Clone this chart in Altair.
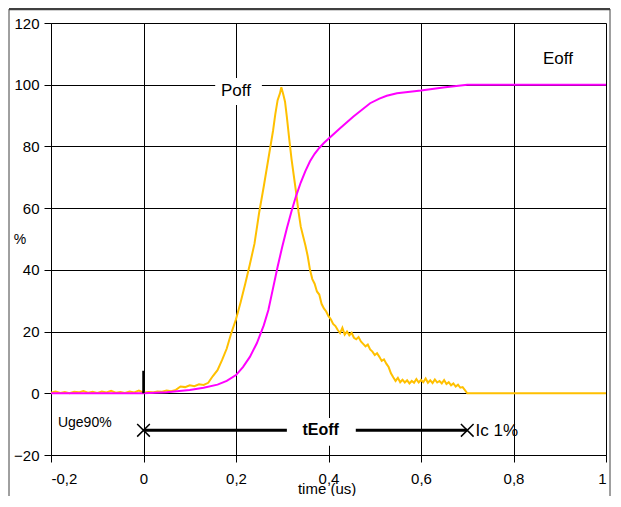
import altair as alt
import pandas as pd

# ---- data ----
poff_t = [-0.2, -0.19, -0.18, -0.17, -0.16, -0.15, -0.14, -0.13, -0.12, -0.11, -0.10,
          -0.09, -0.08, -0.07, -0.06, -0.05, -0.04, -0.03, -0.02, -0.01, 0.0,
          0.01, 0.02, 0.03, 0.04, 0.05, 0.06, 0.07, 0.08, 0.09, 0.10, 0.11, 0.12, 0.13, 0.14,
          0.15, 0.16, 0.17, 0.18, 0.19, 0.20, 0.21, 0.22, 0.23, 0.24, 0.25, 0.26, 0.27, 0.28,
          0.285, 0.29, 0.295, 0.298, 0.302, 0.306, 0.31, 0.315, 0.32, 0.325, 0.33, 0.335,
          0.34, 0.345, 0.35, 0.355, 0.36, 0.365, 0.37, 0.375, 0.38, 0.385, 0.39, 0.395,
          0.40, 0.405, 0.41, 0.415, 0.42, 0.425, 0.43, 0.435, 0.44, 0.445, 0.45, 0.455,
          0.46, 0.465, 0.47, 0.475, 0.48, 0.485, 0.49, 0.495, 0.50, 0.505, 0.51, 0.515,
          0.52, 0.525, 0.53, 0.535, 0.54, 0.545, 0.55, 0.555, 0.56, 0.565, 0.57, 0.575,
          0.58, 0.585, 0.59, 0.595, 0.60, 0.605, 0.61, 0.615, 0.62, 0.625, 0.63, 0.635,
          0.64, 0.645, 0.65, 0.655, 0.66, 0.665, 0.67, 0.675, 0.68, 0.685, 0.69, 0.695,
          0.70, 1.0]
poff_v = [0.2, 0.6, 0.1, 0.4, 0.0, 0.5, 0.3, 0.7, 0.2, 0.5, 0.1,
          0.6, 0.3, 0.8, 0.2, 0.4, 0.1, 0.6, 0.3, 0.9, 0.2,
          0.4, 0.3, 0.6, 0.5, 0.9, 0.7, 1.1, 2.2, 2.0, 2.6, 2.3, 2.9, 2.7, 3.4,
          5.6, 7.5, 10.8, 14.5, 19.6, 24.0, 29.5, 35.5, 41.8, 48.5, 58.5, 67.0, 76.0, 85.0,
          90.5, 95.0, 97.2, 99.2, 97.0, 94.5, 89.5, 82.5, 76.0, 70.5, 65.0, 59.0,
          54.0, 51.0, 48.0, 44.5, 40.0, 37.0, 35.5, 33.0, 32.0, 29.0, 27.5, 26.5,
          25.0, 24.0, 22.5, 21.8, 20.5, 19.5, 21.2, 19.0, 20.0, 18.8, 19.6, 18.0,
          17.5, 18.2, 16.8, 16.0, 15.2, 15.8, 14.2, 13.5, 12.4, 13.0, 11.8, 10.5,
          11.0, 9.6, 8.5, 6.5, 5.2, 4.0, 5.0, 3.6, 4.4, 3.5, 4.2, 3.2,
          4.0, 3.4, 4.6, 3.5, 4.3, 3.6, 4.8, 3.4, 4.2, 3.3, 4.5, 3.5,
          4.0, 3.2, 4.3, 3.0, 3.6, 2.6, 3.2, 2.2, 2.8, 1.8, 2.0, 1.0,
          0.0, 0.0]

eoff_t = [-0.2, 0.0, 0.05, 0.10, 0.13, 0.16, 0.18, 0.20, 0.215, 0.23, 0.245, 0.26, 0.27,
          0.28, 0.29, 0.30, 0.31, 0.32, 0.33, 0.34, 0.35, 0.36, 0.37, 0.38, 0.39, 0.40,
          0.425, 0.454, 0.49, 0.51, 0.526, 0.548, 0.60, 0.648, 0.70, 1.0]
eoff_v = [0.0, 0.0, 0.3, 1.1, 1.8, 2.8, 4.0, 5.9, 8.5, 11.8, 16.2, 22.0, 27.0,
          34.0, 41.0, 47.5, 53.5, 59.0, 64.0, 68.3, 72.0, 75.2, 77.6, 79.5, 81.1, 82.5,
          85.9, 89.7, 94.0, 95.5, 96.4, 97.2, 98.1, 99.1, 100.0, 100.0]

x_ticks = [-0.2, 0.0, 0.2, 0.4, 0.6, 0.8, 1.0]
y_ticks = [-20, 0, 20, 40, 60, 80, 100, 120]

# annotations
big_text = ["Poff", "Eoff"]
big_t = [0.2, 0.896]
big_v = [98.0, 108.4]

small_text = ["Uge90%", "%"]
small_t = [-0.127, -0.267]
small_v = [-9.6, 49.7]

arrow_t = [0.0, 0.7]
arrow_v = [-12.0, -12.0]

box_t = [0.155, 0.31]
box_t2 = [0.256, 0.459]
box_v = [93.4, -8.0]
box_v2 = [102.2, -17.0]

W, H = 555, 432
FONT = "Liberation Sans"

poff = pd.DataFrame({"t": poff_t, "v": poff_v})
eoff = pd.DataFrame({"t": eoff_t, "v": eoff_v})
big = pd.DataFrame({"t": big_t, "v": big_v, "text": big_text})
small = pd.DataFrame({"t": small_t, "v": small_v, "text": small_text})
arrow = pd.DataFrame({"t": arrow_t, "v": arrow_v})
boxes = pd.DataFrame({"t": box_t, "t2": box_t2, "v": box_v, "v2": box_v2})

xscale = alt.Scale(domain=[-0.2, 1.0], nice=False, zero=False)
yscale = alt.Scale(domain=[-20, 120], nice=False, zero=False)

xlab = ("datum.value < 0 ? '-' + replace(format(-datum.value, '.1~f'), '.', ',') : "
        "replace(format(datum.value, '.1~f'), '.', ',')")

xaxis = alt.Axis(values=x_ticks, labelExpr=xlab, title=None, grid=True,
                 gridColor="black", gridOpacity=1, gridWidth=1,
                 tickColor="black", tickSize=7, domainColor="black",
                 labelFont=FONT, labelFontSize=15, labelColor="black", labelPadding=9)
yaxis = alt.Axis(values=y_ticks, title=None, grid=True,
                 gridColor="black", gridOpacity=1, gridWidth=1,
                 tickColor="black", tickSize=7, domainColor="black",
                 labelFont=FONT, labelFontSize=15, labelColor="black", labelPadding=5)

X = alt.X("t:Q", scale=xscale)
Y = alt.Y("v:Q", scale=yscale)

base_poff = alt.Chart(poff).mark_line(color="#FFC000", strokeWidth=2).encode(
    x=alt.X("t:Q", scale=xscale, axis=xaxis),
    y=alt.Y("v:Q", scale=yscale, axis=yaxis),
)

eoff_line = alt.Chart(eoff).mark_line(color="#FF00FF", strokeWidth=2).encode(x=X, y=Y)

arrow_line = alt.Chart(arrow).mark_line(color="black", strokeWidth=3).encode(x=X, y=Y)
arrow_ends = alt.Chart(arrow).mark_point(
    shape="M-1,-1L1,1M-1,1L1,-1", filled=False, color="black", strokeWidth=1.5,
    size=160, opacity=1
).encode(x=X, y=Y)

white_boxes = alt.Chart(boxes).mark_rect(color="white").encode(
    x=X, x2="t2:Q", y=Y, y2="v2:Q",
)

marker = alt.Chart(pd.DataFrame({"t": [0.0], "v": [0.0], "v2": [7.3]})).mark_rule(
    color="black", strokeWidth=2.5
).encode(x=X, y=Y, y2="v2:Q")

big_labels = alt.Chart(big).mark_text(font=FONT, fontSize=17, color="black",
                                      align="center", baseline="middle").encode(
    x=X, y=Y, text="text:N")

small_labels = alt.Chart(small).mark_text(font=FONT, fontSize=14, color="black",
                                          align="center", baseline="middle").encode(
    x=X, y=Y, text="text:N")

ic = alt.Chart(pd.DataFrame({"t": [0.718], "v": [-12.1], "text": ["Ic 1%"]})).mark_text(
    font=FONT, fontSize=17, color="black", align="left", baseline="middle"
).encode(x=X, y=Y, text="text:N")

teoff = alt.Chart(pd.DataFrame({"t": [0.383], "v": [-11.9], "text": ["tEoff"]})).mark_text(
    font=FONT, fontSize=16, fontWeight="bold", color="black", align="center", baseline="middle"
).encode(x=X, y=Y, text="text:N")

xtitle = alt.Chart(pd.DataFrame({"t": [0.397], "v": [-31.0], "text": ["time (us)"]})).mark_text(
    font=FONT, fontSize=15, color="black", align="center", baseline="middle"
).encode(x=X, y=Y, text="text:N")

# outer frame of the chart object
frame_left = alt.Chart(pd.DataFrame({"a": [0]})).mark_rule(color="#404040", strokeWidth=1).encode(
    x=alt.value(-42), y=alt.value(-14), y2=alt.value(H + 60))
frame_right = alt.Chart(pd.DataFrame({"a": [0]})).mark_rule(color="#404040", strokeWidth=1).encode(
    x=alt.value(W + 4), y=alt.value(-14), y2=alt.value(H + 60))
frame_top = alt.Chart(pd.DataFrame({"a": [0]})).mark_rule(color="#404040", strokeWidth=2.5).encode(
    x=alt.value(-42), x2=alt.value(W + 4), y=alt.value(-14))

chart = alt.layer(
    base_poff, white_boxes.transform_filter("datum.v > 0"), eoff_line, arrow_line,
    white_boxes.transform_filter("datum.v < 0"),
    arrow_ends, marker, big_labels, small_labels, ic, teoff, xtitle,
    frame_left, frame_right, frame_top
).properties(
    width=W, height=H,
    autosize=alt.AutoSizeParams(type="none"),
    padding={"left": 43, "top": 15, "right": 6, "bottom": 41},
).configure_view(stroke="black", strokeWidth=1).configure(background="white")

chart.save("out.html", embed_options={"renderer": "svg", "actions": False})
